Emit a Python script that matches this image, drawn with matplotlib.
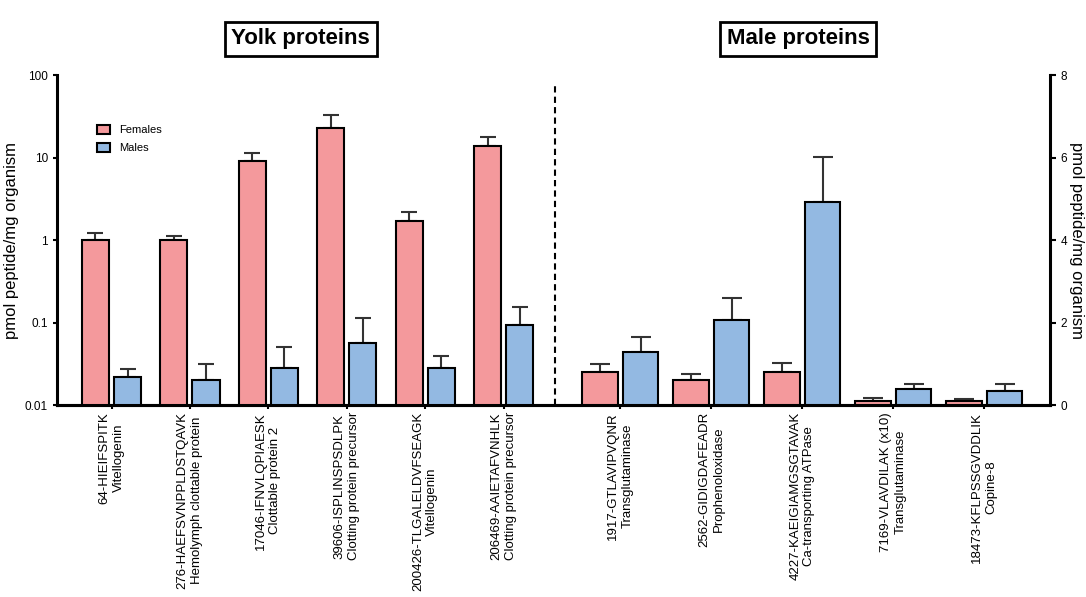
import numpy as np
import matplotlib
matplotlib.use("Agg")
import matplotlib.pyplot as plt

plt.rcParams['font.family'] = ['Liberation Sans', 'DejaVu Sans']

# yolk proteins (log scale, left axis)
yolk_labels = ["64-HIEIFSPITK\nVitellogenin",
               "276-HAEFSVNPPLDSTQAVK\nHemolymph clottable protein",
               "17046-IFNVLQPIAESK\nClottable protein 2",
               "39606-ISPLINSPSDLPK\nClotting protein precursor",
               "200426-TLGALELDVFSEAGK\nVitellogenin",
               "206469-AAIETAFVNHLK\nClotting protein precursor"]
yolk_f = [1.0, 1.0, 9.1, 22.6, 1.7, 13.8]
yolk_f_err = [0.22, 0.13, 2.4, 9.8, 0.48, 3.9]
yolk_m = [0.022, 0.020, 0.028, 0.057, 0.028, 0.094]
yolk_m_err = [0.005, 0.011, 0.023, 0.058, 0.011, 0.059]

# male proteins (linear scale, right axis)
male_labels = ["1917-GTLAVIPVQNR\nTransglutaminase",
               "2562-GIDIGDAFEADR\nProphenoloxidase",
               "4227-KAEIGIAMGSGTAVAK\nCa-transporting ATPase",
               "7169-VLAVDILAK (x10)\nTransglutaminase",
               "18473-KFLPSSGVDDLIK\nCopine-8"]
male_f = [0.81, 0.61, 0.81, 0.10, 0.10]
male_f_err = [0.18, 0.14, 0.22, 0.08, 0.04]
male_m = [1.28, 2.06, 4.93, 0.38, 0.34]
male_m_err = [0.38, 0.53, 1.09, 0.14, 0.18]

c_f = '#F4999C'
c_m = '#93B9E2'

fig = plt.figure(figsize=(10.86, 5.97), dpi=100)
ax = fig.add_axes([0.0525, 0.3216, 0.9145, 0.5526])
ax2 = ax.twinx()

yolk_x = np.arange(len(yolk_f))
male_x = 6.49 + 1.16 * np.arange(len(male_f))

w1 = 0.345
o1 = 0.205
ax.bar(yolk_x - o1, yolk_f, w1, color=c_f, edgecolor='black', linewidth=1.5, label='Females', zorder=3)
ax.bar(yolk_x + o1, yolk_m, w1, color=c_m, edgecolor='black', linewidth=1.5, label='Males', zorder=3)
ax.errorbar(yolk_x - o1, yolk_f, yerr=[np.zeros(6), yolk_f_err], fmt='none',
            ecolor='#333333', elinewidth=1.5, capsize=5.5, capthick=1.5, zorder=2)
ax.errorbar(yolk_x + o1, yolk_m, yerr=[np.zeros(6), yolk_m_err], fmt='none',
            ecolor='#333333', elinewidth=1.5, capsize=5.5, capthick=1.5, zorder=2)

w2 = 0.45
o2 = 0.26
ax2.bar(male_x - o2, male_f, w2, color=c_f, edgecolor='black', linewidth=1.5, zorder=3)
ax2.bar(male_x + o2, male_m, w2, color=c_m, edgecolor='black', linewidth=1.5, zorder=3)
ax2.errorbar(male_x - o2, male_f, yerr=[np.zeros(5), male_f_err], fmt='none',
             ecolor='#333333', elinewidth=1.5, capsize=7, capthick=1.5, zorder=2)
ax2.errorbar(male_x + o2, male_m, yerr=[np.zeros(5), male_m_err], fmt='none',
             ecolor='#333333', elinewidth=1.5, capsize=7, capthick=1.5, zorder=2)

ax.set_yscale('log')
ax.set_ylim(0.01, 100)
ax.set_yticks([0.01, 0.1, 1, 10, 100])
ax.set_yticklabels(['0.01', '0.1', '1', '10', '100'])
ax.minorticks_off()
ax.set_xlim(-0.695, 11.97)
ax2.set_ylim(0, 8)
ax2.set_yticks([0, 2, 4, 6, 8])

ax.set_xticks(list(yolk_x) + list(male_x))
ax.set_xticklabels(yolk_labels + male_labels, rotation=90, fontsize=9.5,
                   multialignment='center', linespacing=1.25)

ax.axvline(5.66, ymin=0, ymax=0.976, color='black', linestyle=(0, (3, 2)), linewidth=1.5)

for a in (ax, ax2):
    a.spines['top'].set_visible(False)
    for s in a.spines.values():
        s.set_linewidth(2.2)
ax2.spines['left'].set_visible(False)
ax.spines['right'].set_visible(False)
ax.tick_params(axis='y', labelsize=8.5, length=3, width=1.5)
ax.tick_params(axis='x', length=3, width=1.5, pad=2)
ax2.tick_params(axis='y', labelsize=8.5, length=4, width=1.5)

ax.set_ylabel('pmol peptide/mg organism', fontsize=12, labelpad=4)
ax2.set_ylabel('pmol peptide/mg organism', fontsize=12, rotation=270, labelpad=12)

ax.legend(loc='upper left', bbox_to_anchor=(0.03, 0.88), frameon=False, fontsize=8,
          handlelength=1.2, handleheight=0.9, labelspacing=0.7)

box = dict(boxstyle='square,pad=0.3', facecolor='white', edgecolor='black', linewidth=2)
fig.text(0.277, 0.935, 'Yolk proteins', fontsize=16, fontweight='bold', ha='center', va='center', bbox=box)
fig.text(0.735, 0.935, 'Male proteins', fontsize=16, fontweight='bold', ha='center', va='center', bbox=box)

fig.savefig('out.png', dpi=100)
